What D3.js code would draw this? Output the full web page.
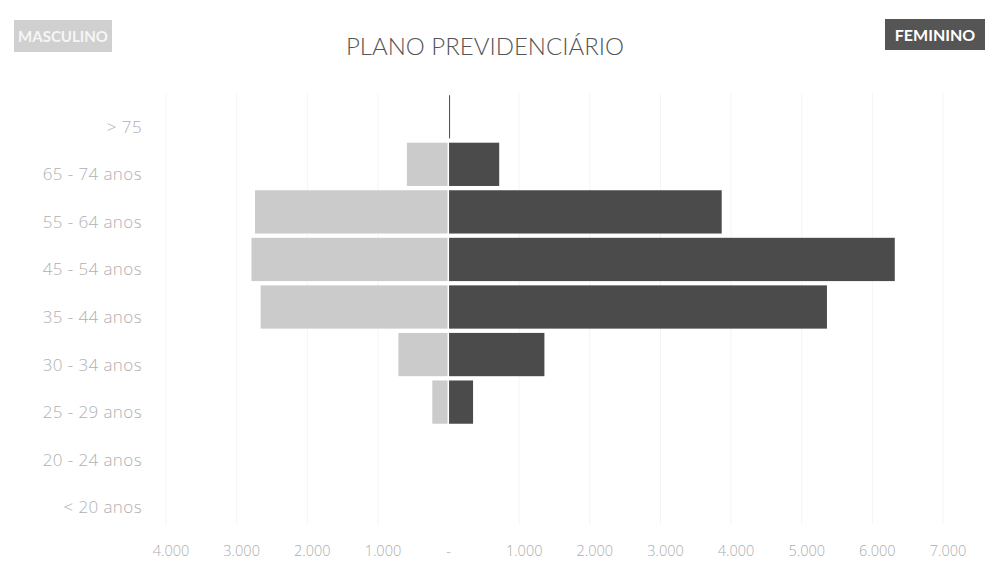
<!DOCTYPE html>
<html><head><meta charset="utf-8">
<script src="https://cdn.jsdelivr.net/npm/d3@7"></script>
<style>
html,body{margin:0;padding:0;background:#fff;}
svg{display:block;font-family:Lato,"Open Sans",sans-serif;}
</style></head>
<body>
<svg id="chart" width="985" height="563"></svg>
<script>
const categories = ["> 75","65 - 74 anos","55 - 64 anos","45 - 54 anos","35 - 44 anos","30 - 34 anos","25 - 29 anos","20 - 24 anos","< 20 anos"];
const masculino = [0, 590, 2740, 2790, 2660, 710, 230, 0, 0];
const feminino = [10, 710, 3860, 6310, 5350, 1350, 340, 0, 0];
const tickValues = [-4000,-3000,-2000,-1000,0,1000,2000,3000,4000,5000,6000,7000];
const title = "PLANO PREVIDENCIÁRIO";
const legendM = "MASCULINO", legendF = "FEMININO";

const svg = d3.select("#chart");
const x = d3.scaleLinear().domain([-4000, 7000]).range([166, 943]);
const y = d3.scaleBand().domain(categories).range([93, 521]).paddingInner(0.09).paddingOuter(0.045);

// gridlines
svg.append("g").selectAll("line").data(tickValues.filter(d => d !== 0)).join("line")
  .attr("x1", d => x(d)).attr("x2", d => x(d))
  .attr("y1", 93).attr("y2", 524)
  .attr("stroke", "#f4f4f4").attr("stroke-width", 1);

// bars
const rows = categories.map((c, i) => ({c, m: masculino[i], f: feminino[i]}));
svg.append("g").selectAll("rect").data(rows.filter(d => d.m > 0)).join("rect")
  .attr("x", d => x(-d.m)).attr("width", d => x(0) - 1 - x(-d.m))
  .attr("y", d => y(d.c)).attr("height", y.bandwidth())
  .attr("fill", "#cbcbcb");
svg.append("g").selectAll("rect").data(rows.filter(d => d.f > 0)).join("rect")
  .attr("x", x(0) + 0.5).attr("width", d => Math.max(1, x(d.f) - x(0)))
  .attr("y", d => y(d.c)).attr("height", y.bandwidth())
  .attr("fill", "#4b4b4b");

// category labels
svg.append("g").selectAll("text").data(categories).join("text")
  .attr("x", 142).attr("y", d => y(d) + y.bandwidth() / 2 + 10)
  .attr("dy", "0.35em").attr("text-anchor", "end")
  .attr("font-family", "'Open Sans', Lato, sans-serif")
  .attr("font-size", 17).attr("letter-spacing", 0.4).attr("font-weight", 300).attr("fill", "#b0b0b0")
  .text(d => d);

// x axis labels
const fmt = d => d === 0 ? "-" : d3.format(",")(Math.abs(d)).replace(/,/g, ".");
svg.append("g").selectAll("text").data(tickValues).join("text")
  .attr("x", d => x(d) + (d === 0 ? 0 : 5)).attr("y", 556)
  .attr("text-anchor", "middle")
  .attr("font-family", "'Open Sans', Lato, sans-serif")
  .attr("font-size", 14.5).attr("font-weight", 300).attr("fill", "#acacac")
  .text(fmt);

// title
svg.append("text").attr("x", 485).attr("y", 55).attr("text-anchor", "middle")
  .attr("font-size", 24).attr("font-weight", 300).attr("fill", "#555")
  .text(title);

// legend boxes
svg.append("rect").attr("x", 14).attr("y", 20).attr("width", 98).attr("height", 32).attr("fill", "#d0d0d0");
svg.append("text").attr("x", 63).attr("y", 42).attr("text-anchor", "middle")
  .attr("font-size", 15).attr("font-weight", 700).attr("fill", "#f6f6f6").text(legendM);
svg.append("rect").attr("x", 885).attr("y", 19).attr("width", 100).attr("height", 31).attr("fill", "#555");
svg.append("text").attr("x", 935).attr("y", 41).attr("text-anchor", "middle")
  .attr("font-size", 16).attr("font-weight", 700).attr("fill", "#fff").text(legendF);
</script>
</body></html>
